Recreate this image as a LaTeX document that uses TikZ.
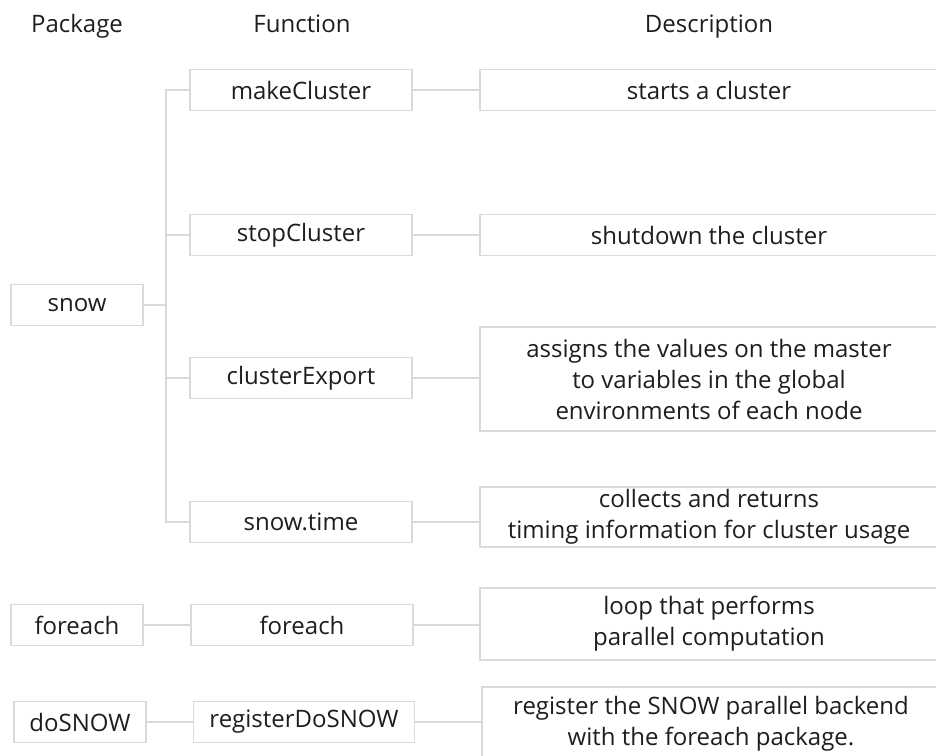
\documentclass[tikz,border=0pt]{standalone}
\usepackage{fontspec}
\setmainfont{Open Sans}
\definecolor{boxline}{HTML}{DADADA}
\definecolor{txt}{HTML}{1E1E1E}
\begin{document}
\begin{tikzpicture}[x=1pt,y=-1pt,
  every node/.style={font=\fontsize{24}{31}\selectfont, text=txt, inner sep=0pt},
  heading/.style={anchor=base},
  cell/.style={draw=boxline, line width=1.4pt, fill=white, minimum height=41pt},
  pkgbox/.style={cell, minimum width=132pt},
  funbox/.style={cell, minimum width=222pt},
  descbox/.style={cell, minimum width=458pt, align=center},
  link/.style={draw=boxline, line width=1.4pt}]
\useasboundingbox[fill=white] (0,0) rectangle (936,755);
\clip (0,0) rectangle (936,755);

% column headings, sharing one baseline
\node[heading] (hpkg)  at (77,32)  {Package};
\node[heading] (hfun)  at (302,32) {Function};
\node[heading] (hdesc) at (709,32) {Description};

% packages
\node[pkgbox] (snow)    at (77,305) {snow};
\node[pkgbox] (pfor)    at (77,625) {foreach};
\node[pkgbox] (pdos)    at (80,722) {doSNOW};

% functions
\node[funbox] (mc)  at (301,90)  {makeCluster};
\node[funbox] (sc)  at (301,235) {stopCluster};
\node[funbox] (ce)  at (301,378) {clusterExport};
\node[funbox] (stm) at (301,522) {snow.time};
\node[funbox] (ffor) at (302,625) {foreach};
\node[funbox, minimum width=221pt] (reg) at (304,722) {registerDoSNOW};

% descriptions
\node[descbox] (d1) at (709,90)  {starts a cluster};
\node[descbox] (d2) at (709,235) {shutdown the cluster};
\node[descbox, minimum height=104pt] (d3) at (709,379)
  {assigns the values on the master\\to variables in the global\\environments of each node};
\node[descbox, minimum height=60pt] (d4) at (709,517)
  {collects and returns\\timing information for cluster usage};
\node[descbox, minimum height=72pt] (d5) at (709,624)
  {loop that performs\\parallel computation};
\node[descbox, minimum height=74pt] (d6) at (711,724)
  {register the SNOW parallel backend\\with the foreach package.};

% tree branching from snow
\coordinate (trunk) at (166,0);
\draw[link] (snow.east) -- (trunk |- snow.east);
\draw[link] (mc.west) -- (trunk |- mc.west) -- (trunk |- stm.west) -- (stm.west);
\draw[link] (sc.west) -- (trunk |- sc.west);
\draw[link] (ce.west) -- (trunk |- ce.west);

% single links
\draw[link] (pfor.east) -- (ffor.west);
\draw[link] (pdos.east) -- (reg.west);

% function to description
\draw[link] (mc.east) -- (d1.west);
\draw[link] (sc.east) -- (d2.west);
\draw[link] (ce.east) -- (ce.east -| d3.west);
\draw[link] (stm.east) -- (stm.east -| d4.west);
\draw[link] (ffor.east) -- (ffor.east -| d5.west);
\draw[link] (reg.east) -- (reg.east -| d6.west);
\end{tikzpicture}
\end{document}
